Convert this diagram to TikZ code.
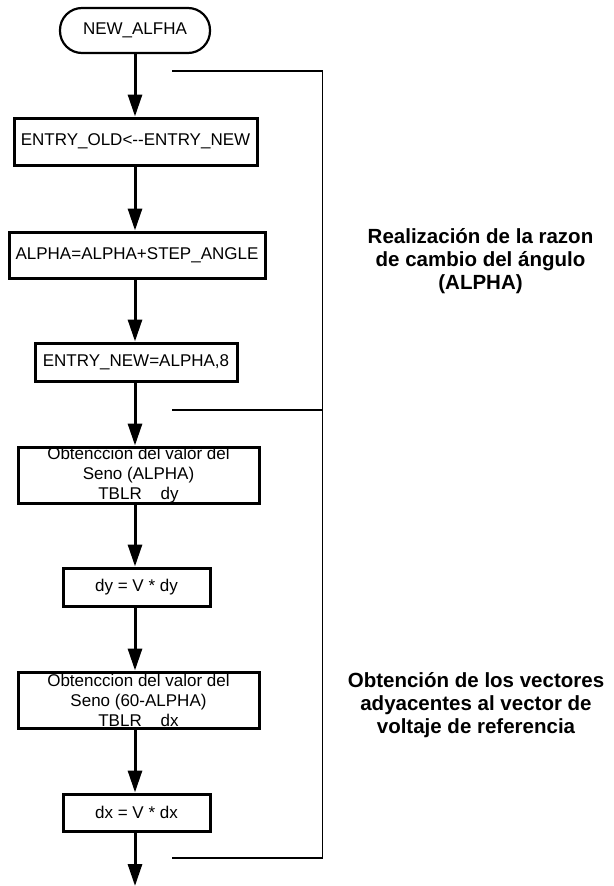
\documentclass[tikz,border=0pt]{standalone}
\usepackage{fontspec}
\setmainfont{Liberation Sans}
\usetikzlibrary{arrows.meta}
\begin{document}
\begin{tikzpicture}[x=1pt,y=-1pt,
  proc/.style={draw,line width=3pt,rectangle,inner sep=0pt,align=center,
    font=\fontsize{17}{20}\selectfont},
  term/.style={draw,line width=2.2pt,rectangle,rounded corners=22pt,inner sep=0pt,
    minimum width=150pt,minimum height=45pt,font=\fontsize{17}{20}\selectfont},
  flow/.style={line width=3pt,-{Triangle[length=22pt,width=14pt]}},
  brk/.style={line width=1.3pt},
  note/.style={align=center,inner sep=0pt,font=\fontsize{20.5}{23}\selectfont\bfseries}]
\useasboundingbox (0,0) rectangle (613,886);
\coordinate (ax) at (135,0);
\node[term] (t0) at (135,30.5) {NEW\_ALFHA};
\node[proc,minimum width=243pt,minimum height=47pt] (b1) at (135.5,141.5) {ENTRY\_OLD<-\kern0pt-\kern0pt ENTRY\_NEW};
\node[proc,minimum width=256pt,minimum height=46pt] (b2) at (137,255) {ALPHA=ALPHA+STEP\_ANGLE};
\node[proc,minimum width=202pt,minimum height=38pt] (b3) at (136,362) {ENTRY\_NEW=ALPHA,8};
\node[proc,minimum width=241pt,minimum height=56pt] (b4) at (138.5,475) {Obtenccion del valor del\\Seno (ALPHA)\\TBLR\ \ \ \ dy};
\node[proc,minimum width=147pt,minimum height=38pt] (b5) at (136.5,587) {dy = V * dy};
\node[proc,minimum width=241pt,minimum height=56pt] (b6) at (138.5,700) {Obtenccion del valor del\\Seno (60-ALPHA)\\TBLR\ \ \ \ dx};
\node[proc,minimum width=147pt,minimum height=37pt] (b7) at (136.5,812.5) {dx = V * dx};
\coordinate (endp) at (135,886);
\draw[flow] (ax |- t0.south) -- (ax |- b1.north);
\draw[flow] (ax |- b1.south) -- (ax |- b2.north);
\draw[flow] (ax |- b2.south) -- (ax |- b3.north);
\draw[flow] (ax |- b3.south) -- (ax |- b4.north);
\draw[flow] (ax |- b4.south) -- (ax |- b5.north);
\draw[flow] (ax |- b5.south) -- (ax |- b6.north);
\draw[flow] (ax |- b6.south) -- (ax |- b7.north);
\draw[flow] (ax |- b7.south) -- (endp);
\coordinate (k1) at (172,71);
\coordinate (k2) at (322.5,71);
\coordinate (k3) at (322.5,858);
\coordinate (k4) at (172,858);
\coordinate (m1) at (172,410);
\coordinate (m2) at (322.5,410);
\draw[brk] (k1) -- (k2) -- (k3) -- (k4);
\draw[brk] (m1) -- (m2);
\node[note] (n1) at (480.5,261) {Realización de la razon\\de cambio del ángulo\\(ALPHA)};
\node[note] (n2) at (476,705) {Obtención de los vectores\\adyacentes al vector de\\voltaje de referencia};
\end{tikzpicture}
\end{document}
